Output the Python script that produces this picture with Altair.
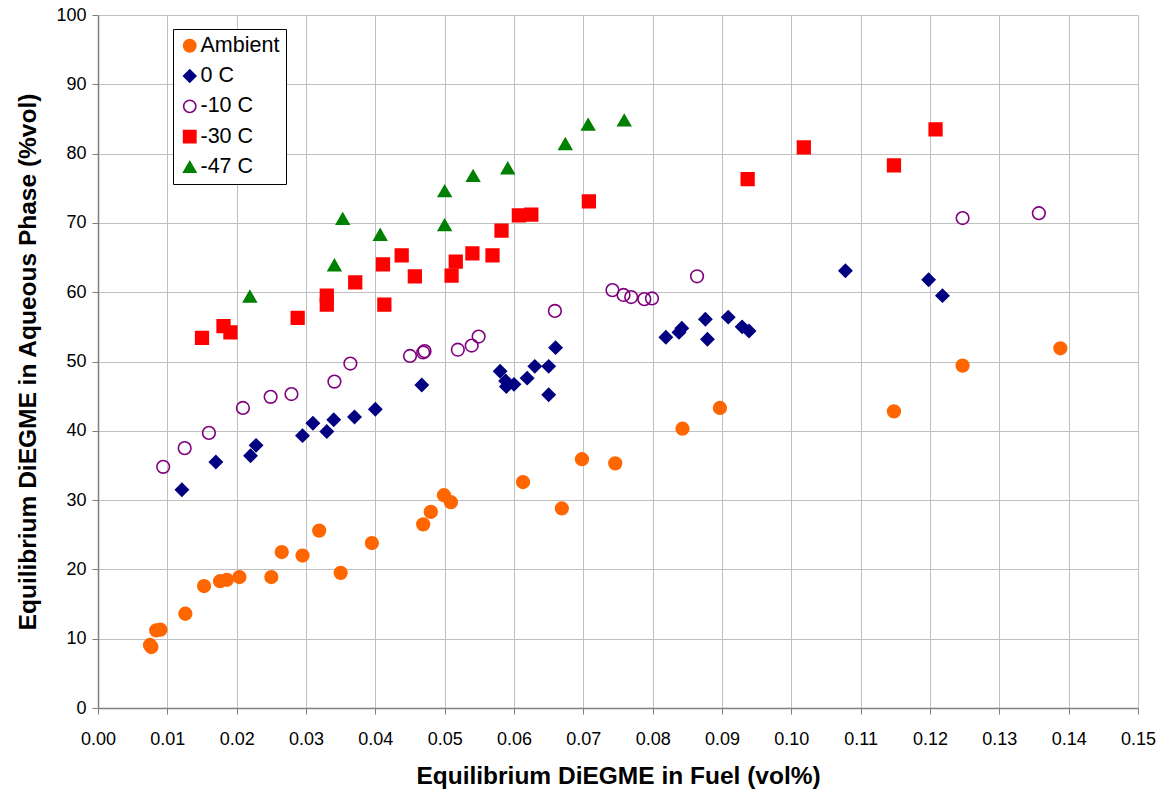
import altair as alt
import pandas as pd

# Equilibrium DiEGME: concentration in fuel (vol%) vs. in aqueous phase (%vol)
ambient_x = [0.0075, 0.0077, 0.0084, 0.0090, 0.0126, 0.0153, 0.0176, 0.0186, 0.0204, 0.0250,
             0.0265, 0.0295, 0.0319, 0.0350, 0.0395, 0.0469, 0.0480, 0.0499, 0.0509, 0.0613,
             0.0669, 0.0698, 0.0746, 0.0843, 0.0897, 0.1148, 0.1247, 0.1388]
ambient_y = [9.1, 8.8, 11.2, 11.3, 13.6, 17.6, 18.3, 18.5, 18.9, 18.9,
             22.5, 22.0, 25.6, 19.5, 23.8, 26.5, 28.3, 30.7, 29.7, 32.6,
             28.8, 35.9, 35.3, 40.3, 43.3, 42.8, 49.4, 51.9]

c0_x = [0.0121, 0.0170, 0.0220, 0.0228, 0.0295, 0.0310, 0.0330, 0.0340, 0.0370, 0.0400,
        0.0467, 0.0580, 0.0588, 0.0589, 0.0600, 0.0619, 0.0630, 0.0650, 0.0650, 0.0660,
        0.0819, 0.0838, 0.0842, 0.0876, 0.0879, 0.0909, 0.0929, 0.0939, 0.1078, 0.1198, 0.1218]
c0_y = [31.5, 35.5, 36.4, 37.9, 39.3, 41.1, 39.9, 41.6, 42.0, 43.1,
        46.6, 48.6, 47.2, 46.4, 46.7, 47.6, 49.3, 49.3, 45.2, 52.0,
        53.5, 54.2, 54.8, 56.1, 53.2, 56.4, 55.0, 54.4, 63.1, 61.8, 59.5]

m10_x = [0.0094, 0.0125, 0.0160, 0.0209, 0.0249, 0.0279, 0.0341, 0.0364, 0.0450, 0.0469,
         0.0471, 0.0519, 0.0539, 0.0549, 0.0659, 0.0742, 0.0758, 0.0769, 0.0788, 0.0799,
         0.0864, 0.1247, 0.1357]
m10_y = [34.8, 37.5, 39.7, 43.3, 44.9, 45.3, 47.1, 49.7, 50.8, 51.3,
         51.5, 51.7, 52.3, 53.6, 57.3, 60.3, 59.6, 59.3, 59.0, 59.1,
         62.3, 70.7, 71.4]

m30_x = [0.0150, 0.0181, 0.0191, 0.0288, 0.0330, 0.0330, 0.0371, 0.0411, 0.0413, 0.0438,
         0.0457, 0.0510, 0.0516, 0.0540, 0.0569, 0.0582, 0.0607, 0.0625, 0.0708, 0.0937,
         0.1018, 0.1148, 0.1208]
m30_y = [53.4, 55.1, 54.2, 56.3, 59.5, 58.2, 61.4, 64.0, 58.2, 65.3,
         62.3, 62.4, 64.4, 65.6, 65.3, 68.9, 71.1, 71.2, 73.1, 76.3,
         80.9, 78.3, 83.5]

m47_x = [0.0219, 0.0341, 0.0353, 0.0407, 0.0500, 0.0500, 0.0541, 0.0591, 0.0674, 0.0707, 0.0759]
m47_y = [59.4, 63.9, 70.6, 68.3, 74.6, 69.7, 76.8, 77.9, 81.4, 84.2, 84.8]

series = ["Ambient", "0 C", "-10 C", "-30 C", "-47 C"]
shapes = ["circle", "diamond", "circle", "square", "triangle-up"]
fills = ["#FF6600", "#000080", "transparent", "#FF0000", "#008000"]
strokes = ["#FF6600", "#000080", "#800080", "#FF0000", "#008000"]

x_ticks = [i / 100 for i in range(16)]
y_ticks = list(range(0, 101, 10))

frames = []
for name, xs, ys in zip(series,
                        [ambient_x, c0_x, m10_x, m30_x, m47_x],
                        [ambient_y, c0_y, m10_y, m30_y, m47_y]):
    frames.append(pd.DataFrame({"fuel": xs, "aqueous": ys, "series": name,
                                "order": series.index(name)}))
df = pd.concat(frames, ignore_index=True)

FONT = "Liberation Sans"


def series_legend():
    return alt.Legend(
        title=None,
        orient="none",
        legendX=75,
        legendY=14,
        fillColor="white",
        strokeColor="black",
        padding=6,
        labelFont=FONT,
        labelFontSize=21.5,
        labelColor="black",
        symbolSize=150,
        symbolStrokeWidth=1.6,
        rowPadding=7.3,
        labelOffset=0,
    )


points = alt.Chart(df).mark_point(opacity=1, strokeWidth=1.6, size=160).encode(
    x=alt.X("fuel:Q",
            scale=alt.Scale(domain=[0, 0.15], nice=False, zero=True),
            axis=alt.Axis(values=x_ticks, format=".2f", labelFlush=False,
                          title="Equilibrium DiEGME in Fuel (vol%)")),
    y=alt.Y("aqueous:Q",
            scale=alt.Scale(domain=[0, 100], nice=False),
            axis=alt.Axis(values=y_ticks, format="d", labelFlush=False,
                          title="Equilibrium DiEGME in Aqueous Phase (%vol)")),
    shape=alt.Shape("series:N", scale=alt.Scale(domain=series, range=shapes),
                    legend=series_legend()),
    fill=alt.Fill("series:N", scale=alt.Scale(domain=series, range=fills),
                  legend=series_legend()),
    stroke=alt.Stroke("series:N", scale=alt.Scale(domain=series, range=strokes),
                      legend=series_legend()),
    order=alt.Order("order:Q"),
)

chart = points.properties(
    width=1040,
    height=693,
    autosize=alt.AutoSizeParams(type="none"),
    padding={"left": 98, "top": 15, "right": 28, "bottom": 88},
).configure_view(
    stroke=None
).configure_axis(
    labelFont=FONT,
    labelFontSize=18,
    labelColor="black",
    titleFont=FONT,
    titleFontSize=24.5,
    titleFontWeight="bold",
    titleColor="black",
    gridColor="#C0C0C0",
    gridWidth=1,
    domainColor="#808080",
    domainWidth=1.5,
    tickColor="#808080",
    tickSize=6,
).configure_axisX(
    labelPadding=16,
    titlePadding=16,
).configure_axisY(
    labelPadding=6,
    titlePadding=15,
)

chart.save("out.html", embed_options={"renderer": "svg", "actions": False})
